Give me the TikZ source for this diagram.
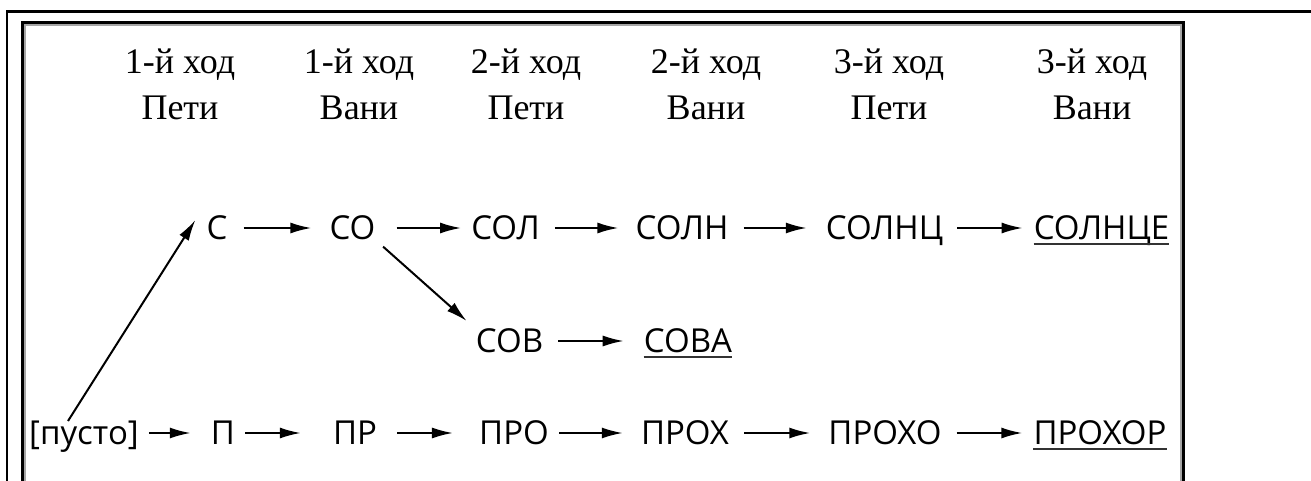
\documentclass[tikz,border=0pt]{standalone}
\usepackage{fontspec}
\setmainfont{Liberation Serif}
\newfontfamily\wordfont{Open Sans}
\usetikzlibrary{arrows.meta}
\begin{document}
\begin{tikzpicture}[x=1pt,y=-1pt,
  hdr/.style={font=\fontsize{36}{46}\selectfont, align=center, inner sep=0pt, anchor=base},
  word/.style={font=\wordfont\fontsize{33}{40}\selectfont, inner sep=0pt, text height=23.6pt, text depth=0pt},
  arr/.style={line width=2pt, -{Latex[length=21pt,width=11pt]}},
  uline/.style={line width=2pt, draw=black!80},
  frameline/.style={line width=2.6pt}]
\useasboundingbox (0,0) rectangle (1311,481);
% frame
\draw[frameline] (7,481) -- (7,11.3) -- (1311,11.3);
\draw[line width=2pt, black!35] (25,481) -- (25,25) -- (1181,25) -- (1181,481);
\draw[frameline] (22.5,481) -- (22.5,22.5) -- (1183.5,22.5) -- (1183.5,481);
% headers
\node[hdr] (h1) at (180,120) {1-й ход\\Пети};
\node[hdr] (h2) at (359,120) {1-й ход\\Вани};
\node[hdr] (h3) at (526,120) {2-й ход\\Пети};
\node[hdr] (h4) at (706,120) {2-й ход\\Вани};
\node[hdr] (h5) at (889,120) {3-й ход\\Пети};
\node[hdr] (h6) at (1092,120) {3-й ход\\Вани};
% row 1
\node[word] (c1) at (217,228) {С};
\node[word] (c2) at (352.5,228) {СО};
\node[word] (c3) at (505.5,228) {СОЛ};
\node[word] (c4) at (682,228) {СОЛН};
\node[word] (c5) at (884.5,228) {СОЛНЦ};
\node[word] (c6) at (1101.5,228) {СОЛНЦЕ};
% row 2
\node[word] (v1) at (509.5,341) {СОВ};
\node[word] (v2) at (688,341) {СОВА};
% row 3
\node[word] (p0) at (84,433) {[пусто]};
\node[word] (p1) at (223,433) {П};
\node[word] (p2) at (355,433) {ПР};
\node[word] (p3) at (514,433) {ПРО};
\node[word] (p4) at (685,433) {ПРОХ};
\node[word] (p5) at (885,433) {ПРОХО};
\node[word] (p6) at (1100,433) {ПРОХОР};
% underlines
\draw[uline] ([yshift=-4pt]c6.south west) -- ([yshift=-4pt]c6.south east);
\draw[uline] ([yshift=-4pt]v2.south west) -- ([yshift=-4pt]v2.south east);
\draw[uline] ([yshift=-4pt]p6.south west) -- ([yshift=-4pt]p6.south east);
% arrows row 1
\draw[arr, shorten <=16pt, shorten >=18pt] (c1) -- (c2);
\draw[arr, shorten <=21pt, shorten >=10pt] (c2) -- (c3);
\draw[arr, shorten <=15pt, shorten >=17pt] (c3) -- (c4);
\draw[arr, shorten <=15pt, shorten >=19pt] (c4) -- (c5);
\draw[arr, shorten <=14pt, shorten >=11pt] (c5) -- (c6);
% row 2
\draw[arr, shorten <=15pt, shorten >=20pt] (v1) -- (v2);
% row 3
\draw[arr, shorten <=10pt, shorten >=20pt] (p0) -- (p1);
\draw[arr, shorten <=10pt, shorten >=32pt] (p1) -- (p2);
\draw[arr, shorten <=20pt, shorten >=26pt] (p2) -- (p3);
\draw[arr, shorten <=10pt, shorten >=18pt] (p3) -- (p4);
\draw[arr, shorten <=15pt, shorten >=18pt] (p4) -- (p5);
\draw[arr, shorten <=15pt, shorten >=11pt] (p5) -- (p6);
% diagonals
\draw[arr] ([xshift=-16pt]p0.north) -- ([xshift=-11pt,yshift=8pt]c1.west);
\draw[arr, shorten <=10pt, shorten >=12pt] (c2.south east) -- (v1.north west);
\end{tikzpicture}
\end{document}
